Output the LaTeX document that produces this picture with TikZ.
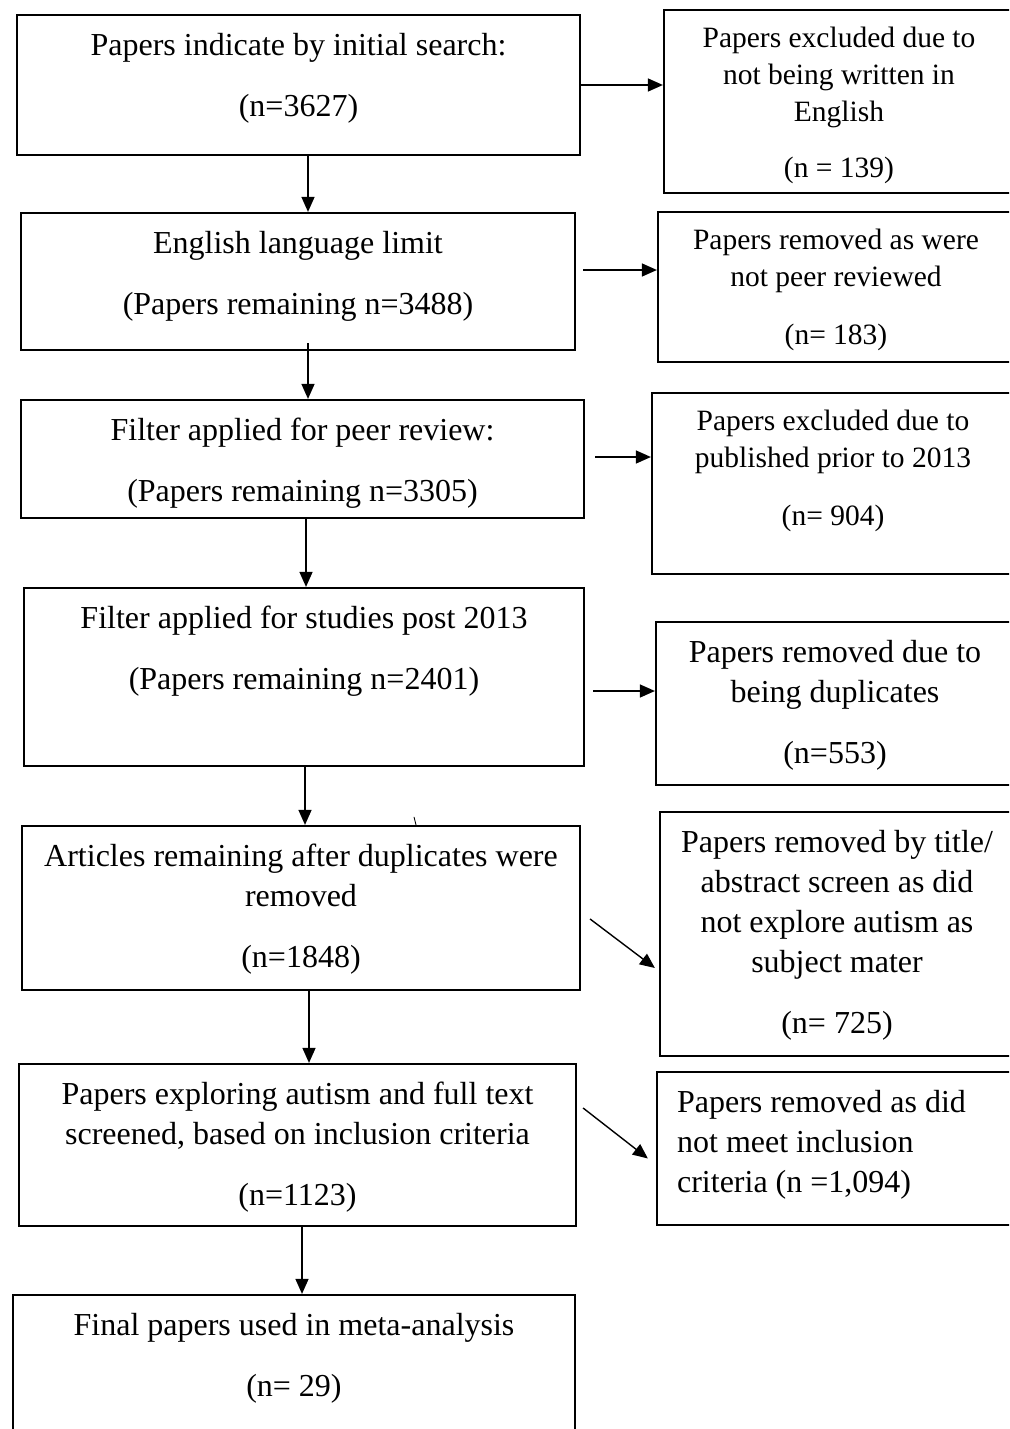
\documentclass[tikz,border=0pt]{standalone}
\usepackage{fontspec}
\setmainfont{Liberation Serif}
\usetikzlibrary{positioning,arrows.meta}
\tikzset{
  box/.style={draw,line width=2.2pt,inner sep=0pt},
  txt/.style={align=center,inner sep=0pt,font=\fontsize{32}{40}\selectfont},
  txts/.style={align=center,inner sep=0pt,font=\fontsize{29.5}{37}\selectfont},
  arr/.style={line width=1.4pt,-{Triangle[length=15pt,width=13pt]}}
}
\begin{document}
\begin{tikzpicture}[x=1pt,y=-1pt]
\useasboundingbox (0,0) rectangle (1009,1429);
\clip (0,0) rectangle (1009,1429);
\foreach \nm/\cx/\cy/\w/\h in {ini/298.5/85/563/140,eng/298/281.5/554/137,peer/302.5/459/563/118,post/304/677/560/178,dup/301/908/558/164,full/297.5/1145/557/162,fin/294/1377.5/562/165,exc/839/101.5/350/183,rev/836/287/356/150,pri/833/483.5/362/181,dupl/835/703.5/358/163,ttl/837/934/354/244,inc/835.5/1148.5/357/153}{ \node[box,minimum width=\w pt,minimum height=\h pt] (\nm) at (\cx,\cy) {}; }
\node[txt,below=19pt of ini.north] (tini) {Papers indicate by initial search:\\[21pt](n=3627)};
\node[txt,below=19pt of eng.north] (teng) {English language limit\\[21pt](Papers remaining n=3488)};
\node[txt,below=19pt of peer.north] (tpeer) {Filter applied for peer review:\\[21pt](Papers remaining n=3305)};
\node[txt,below=19pt of post.north] (tpost) {Filter applied for studies post 2013\\[21pt](Papers remaining n=2401)};
\node[txt,below=19pt of dup.north] (tdup) {Articles remaining after duplicates were\\removed\\[21pt](n=1848)};
\node[txt,below=19pt of full.north] (tfull) {Papers exploring autism and full text\\screened, based on inclusion criteria\\[21pt](n=1123)};
\node[txt,below=19pt of fin.north] (tfin) {Final papers used in meta-analysis\\[21pt](n= 29)};
\node[txts,below=18pt of exc.north] (texc) {Papers excluded due to\\not being written in\\English\\[19pt](n = 139)};
\node[txts,below=18pt of rev.north] (trev) {Papers removed as were\\not peer reviewed\\[21pt](n= 183)};
\node[txts,below=18pt of pri.north] (tpri) {Papers excluded due to\\published prior to 2013\\[21pt](n= 904)};
\node[txt,below=19pt of dupl.north] (tdupl) {Papers removed due to\\being duplicates\\[21pt](n=553)};
\node[txt,below=19pt of ttl.north] (tttl) {Papers removed by title/\\abstract screen as did\\not explore autism as\\subject mater\\[21pt](n= 725)};
\node[txt,align=left,below right=19pt and 21pt of inc.north west] (tinc) {Papers removed as did\\not meet inclusion\\criteria (n =1,094)};
\draw[arr] ([xshift=9.5pt]ini.south) -- ([xshift=9.5pt]ini.south |- eng.north);
\draw[arr] ([shift={(10pt,8pt)}]eng.south) -- ([xshift=10pt]eng.south |- peer.north);
\draw[arr] ([xshift=3.5pt]peer.south) -- ([xshift=3.5pt]peer.south |- post.north);
\draw[arr] ([xshift=1pt]post.south) -- ([xshift=1pt]post.south |- dup.north);
\draw[arr] ([xshift=8pt]dup.south) -- ([xshift=8pt]dup.south |- full.north);
\draw[arr] ([xshift=4.5pt]full.south) -- ([xshift=4.5pt]full.south |- fin.north);
\draw[arr] (ini.east) -- (ini.east -| exc.west);
\coordinate (a2) at ([shift={(7pt,11.5pt)}]eng.east);
\coordinate (a3) at ([shift={(10pt,2pt)}]peer.east);
\coordinate (a4) at ([shift={(8pt,-14pt)}]post.east);
\draw[arr] (a2) -- (a2 -| rev.west);
\draw[arr] (a3) -- (a3 -| pri.west);
\draw[arr] (a4) -- (a4 -| dupl.west);
\draw[arr] ([shift={(9pt,-11pt)}]dup.east) -- ([shift={(-4pt,-34pt)}]ttl.west);
\draw[arr] ([shift={(6pt,37pt)}]full.east) -- ([shift={(-8pt,-10pt)}]inc.west);
\draw[line width=0.8pt] ([xshift=115pt]dup.north) -- ++(-2pt,8pt);
\end{tikzpicture}
\end{document}
